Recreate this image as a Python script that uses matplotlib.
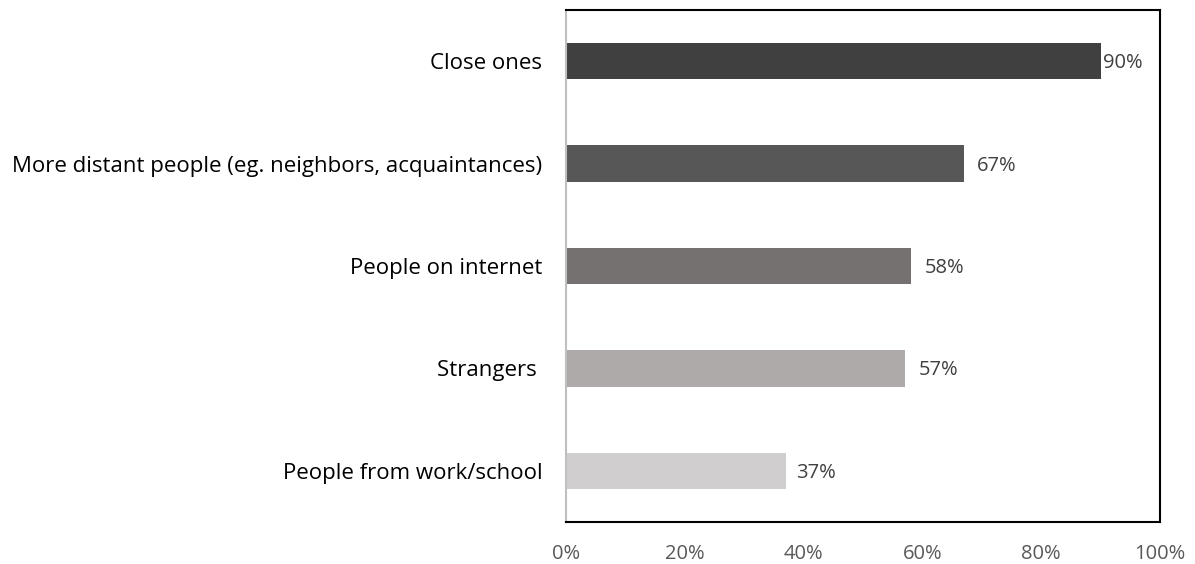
import matplotlib.pyplot as plt

categories = ['Close ones',
              'More distant people (eg. neighbors, acquaintances)',
              'People on internet',
              'Strangers ',
              'People from work/school']
values = [0.90, 0.67, 0.58, 0.57, 0.37]
value_labels = ['90%', '67%', '58%', '57%', '37%']
tick_values = [0, 0.2, 0.4, 0.6, 0.8, 1.0]
tick_labels = ['0%', '20%', '40%', '60%', '80%', '100%']

colors = ['#404040', '#575757', '#757171', '#AEAAAA', '#D0CECE']
label_offsets = [2, 13, 14, 14, 10]  # px gap between bar end and label

plt.rcParams['font.family'] = ['Open Sans', 'DejaVu Sans']

fig = plt.figure(figsize=(11.95, 5.64), dpi=100)
ax = fig.add_axes([566 / 1195, 42 / 564, (1160 - 566) / 1195, 512 / 564])

ypos = list(range(len(categories)))
ax.barh(ypos, values, height=0.355, color=colors)

for y, v, lab, off in zip(ypos, values, value_labels, label_offsets):
    ax.annotate(lab, (v, y), xytext=(off, -2), textcoords='offset pixels',
                ha='left', va='center', fontsize=14.5, color='#404040')

ax.set_xlim(0, 1)
ax.set_ylim(len(categories) - 0.5, -0.5)
ax.set_yticks(ypos)
ax.set_yticklabels(categories, fontsize=16, color='black')
ax.set_xticks(tick_values)
ax.set_xticklabels(tick_labels, fontsize=14.5, color='#595959')
ax.tick_params(axis='both', length=0)
ax.tick_params(axis='x', pad=16)
ax.tick_params(axis='y', pad=17)

for side in ['top', 'right', 'bottom']:
    ax.spines[side].set_color('black')
    ax.spines[side].set_linewidth(1.5)
ax.spines['left'].set_color('#BFBFBF')
ax.spines['left'].set_linewidth(1.5)

fig.savefig('out.png', dpi=100)
